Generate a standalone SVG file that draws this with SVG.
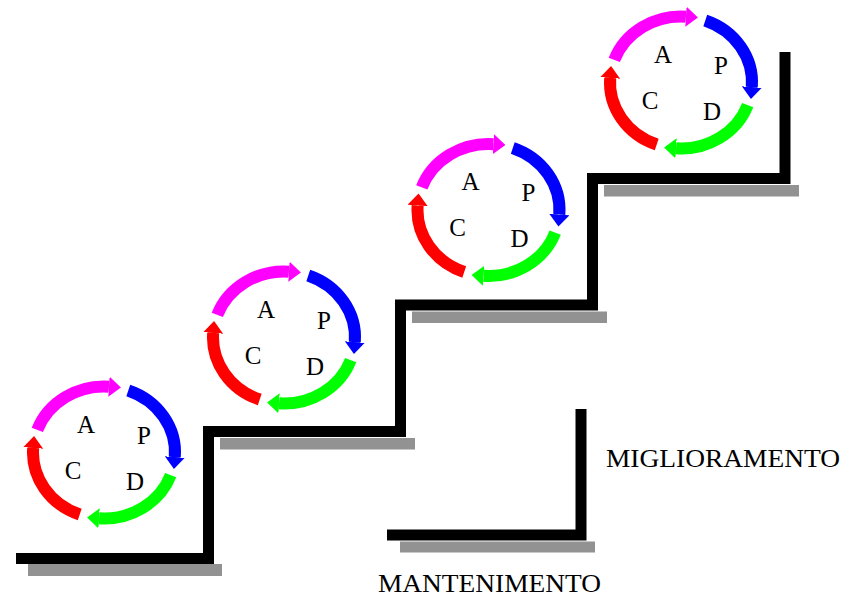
<svg xmlns="http://www.w3.org/2000/svg" xmlns:xlink="http://www.w3.org/1999/xlink" width="848" height="597" viewBox="0 0 848 597">
  <style>
    .stair { fill: none; stroke: #000; stroke-width: 11; stroke-linejoin: miter; stroke-linecap: butt; }
    .shadow { fill: #929292; }
    .band { fill: none; stroke-width: 12; stroke-linecap: butt; }
    .letter { font-family: "Liberation Serif", "Times New Roman", serif; font-size: 25px; fill: #000; text-anchor: middle; }
    .label { font-family: "Liberation Serif", "Times New Roman", serif; font-size: 26px; fill: #000; }
  </style>
  <defs>
    <marker id="mA" viewBox="0 -10 12 20" refX="0" refY="0" markerWidth="12" markerHeight="20" markerUnits="userSpaceOnUse" orient="auto">
      <path d="M0,-10 L12,0 L0,10 Z" fill="#ff00ff"/>
    </marker>
    <marker id="mP" viewBox="0 -10 12 20" refX="0" refY="0" markerWidth="12" markerHeight="20" markerUnits="userSpaceOnUse" orient="auto">
      <path d="M0,-10 L12,0 L0,10 Z" fill="#0000ff"/>
    </marker>
    <marker id="mD" viewBox="0 -10 12 20" refX="0" refY="0" markerWidth="12" markerHeight="20" markerUnits="userSpaceOnUse" orient="auto">
      <path d="M0,-10 L12,0 L0,10 Z" fill="#00ff00"/>
    </marker>
    <marker id="mC" viewBox="0 -10 12 20" refX="0" refY="0" markerWidth="12" markerHeight="20" markerUnits="userSpaceOnUse" orient="auto">
      <path d="M0,-10 L12,0 L0,10 Z" fill="#ff0000"/>
    </marker>
    <g id="pdca">
      <path class="band" stroke="#ff00ff" marker-end="url(#mA)" d="M-66.72,-22.57 A71,66 0 0 1 4.95,-65.84"/>
      <path class="band" stroke="#0000ff" marker-end="url(#mP)" d="M24.28,-62.02 A71,66 0 0 1 70.83,4.61"/>
      <path class="band" stroke="#00ff00" marker-end="url(#mD)" d="M66.72,22.57 A71,66 0 0 1 -4.95,65.84"/>
      <path class="band" stroke="#ff0000" marker-end="url(#mC)" d="M-24.28,62.02 A71,66 0 0 1 -70.83,-4.61"/>
      <text class="letter" x="-18" y="-20">A</text>
      <text class="letter" x="40" y="-9">P</text>
      <text class="letter" x="-31" y="26">C</text>
      <text class="letter" x="31" y="37">D</text>
    </g>
  </defs>

  <g id="stairs">
    <rect class="shadow" x="28" y="564" width="194" height="12"/>
    <rect class="shadow" x="220" y="438" width="195" height="11.5"/>
    <rect class="shadow" x="412" y="311.5" width="195" height="11.5"/>
    <rect class="shadow" x="604" y="185" width="195" height="11.5"/>
    <polyline class="stair" points="16,558.5 208.5,558.5 208.5,431.5 400.5,431.5 400.5,305 592.5,305 592.5,178.5 785,178.5 785,52"/>
  </g>

  <g id="cycle1"><use xlink:href="#pdca" href="#pdca" transform="translate(104,452.5)"/></g>
  <g id="cycle2"><use xlink:href="#pdca" href="#pdca" transform="translate(284,337.5)"/></g>
  <g id="cycle3"><use xlink:href="#pdca" href="#pdca" transform="translate(488.5,210)"/></g>
  <g id="cycle4"><use xlink:href="#pdca" href="#pdca" transform="translate(681,82.5)"/></g>

  <g id="legend">
    <rect class="shadow" x="400" y="541.5" width="195" height="11"/>
    <polyline class="stair" points="387,535 581,535 581,409"/>
    <text class="label" x="606" y="467" textLength="234" lengthAdjust="spacingAndGlyphs">MIGLIORAMENTO</text>
    <text class="label" x="378" y="592" textLength="223" lengthAdjust="spacingAndGlyphs">MANTENIMENTO</text>
  </g>
</svg>
